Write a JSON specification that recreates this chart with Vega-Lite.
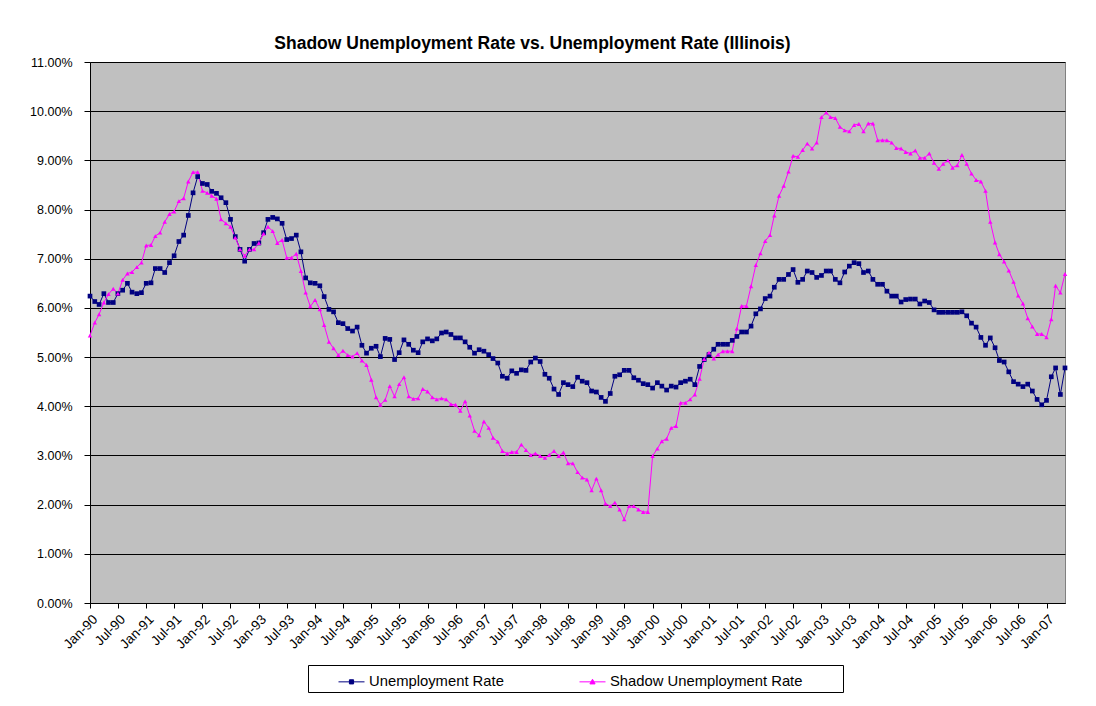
{
  "$schema": "https://vega.github.io/schema/vega-lite/v6.json",
  "width": 975,
  "height": 541,
  "autosize": {"type": "none"},
  "padding": {"left": 90, "top": 62, "right": 31, "bottom": 103},
  "background": "white",
  "title": {"text": "Shadow Unemployment Rate vs. Unemployment Rate (Illinois)", "font": "Liberation Sans", "fontSize": 17.5, "fontWeight": "bold", "color": "black", "anchor": "middle", "dx": -45, "offset": 4},
  "data": {"values": [
    {"d":"1990-01-01","u":6.24,"s":5.44},{"d":"1990-02-01","u":6.13,"s":5.70},{"d":"1990-03-01","u":6.07,"s":5.87},{"d":"1990-04-01","u":6.29,"s":6.11},{"d":"1990-05-01","u":6.11,"s":6.28},{"d":"1990-06-01","u":6.11,"s":6.39},{"d":"1990-07-01","u":6.29,"s":6.29},{"d":"1990-08-01","u":6.36,"s":6.57},{"d":"1990-09-01","u":6.50,"s":6.70},{"d":"1990-10-01","u":6.32,"s":6.73},{"d":"1990-11-01","u":6.29,"s":6.83},{"d":"1990-12-01","u":6.31,"s":6.92},
    {"d":"1991-01-01","u":6.50,"s":7.27},{"d":"1991-02-01","u":6.51,"s":7.28},{"d":"1991-03-01","u":6.80,"s":7.46},{"d":"1991-04-01","u":6.80,"s":7.53},{"d":"1991-05-01","u":6.72,"s":7.75},{"d":"1991-06-01","u":6.92,"s":7.91},{"d":"1991-07-01","u":7.06,"s":7.96},{"d":"1991-08-01","u":7.35,"s":8.17},{"d":"1991-09-01","u":7.48,"s":8.23},{"d":"1991-10-01","u":7.88,"s":8.57},{"d":"1991-11-01","u":8.34,"s":8.76},{"d":"1991-12-01","u":8.67,"s":8.76},
    {"d":"1992-01-01","u":8.53,"s":8.38},{"d":"1992-02-01","u":8.51,"s":8.34},{"d":"1992-03-01","u":8.37,"s":8.28},{"d":"1992-04-01","u":8.33,"s":8.22},{"d":"1992-05-01","u":8.24,"s":7.80},{"d":"1992-06-01","u":8.14,"s":7.72},{"d":"1992-07-01","u":7.80,"s":7.65},{"d":"1992-08-01","u":7.45,"s":7.43},{"d":"1992-09-01","u":7.19,"s":7.19},{"d":"1992-10-01","u":6.95,"s":7.06},{"d":"1992-11-01","u":7.19,"s":7.19},{"d":"1992-12-01","u":7.31,"s":7.19},
    {"d":"1993-01-01","u":7.32,"s":7.32},{"d":"1993-02-01","u":7.53,"s":7.51},{"d":"1993-03-01","u":7.80,"s":7.65},{"d":"1993-04-01","u":7.84,"s":7.56},{"d":"1993-05-01","u":7.81,"s":7.32},{"d":"1993-06-01","u":7.72,"s":7.38},{"d":"1993-07-01","u":7.39,"s":7.02},{"d":"1993-08-01","u":7.41,"s":7.02},{"d":"1993-09-01","u":7.48,"s":7.10},{"d":"1993-10-01","u":7.14,"s":6.75},{"d":"1993-11-01","u":6.61,"s":6.31},{"d":"1993-12-01","u":6.51,"s":6.03},
    {"d":"1994-01-01","u":6.50,"s":6.16},{"d":"1994-02-01","u":6.45,"s":5.97},{"d":"1994-03-01","u":6.23,"s":5.65},{"d":"1994-04-01","u":5.97,"s":5.31},{"d":"1994-05-01","u":5.92,"s":5.18},{"d":"1994-06-01","u":5.70,"s":5.04},{"d":"1994-07-01","u":5.68,"s":5.13},{"d":"1994-08-01","u":5.58,"s":5.04},{"d":"1994-09-01","u":5.53,"s":5.01},{"d":"1994-10-01","u":5.61,"s":5.08},{"d":"1994-11-01","u":5.24,"s":4.93},{"d":"1994-12-01","u":5.08,"s":4.84},
    {"d":"1995-01-01","u":5.18,"s":4.54},{"d":"1995-02-01","u":5.22,"s":4.18},{"d":"1995-03-01","u":5.01,"s":4.03},{"d":"1995-04-01","u":5.38,"s":4.13},{"d":"1995-05-01","u":5.36,"s":4.41},{"d":"1995-06-01","u":4.95,"s":4.20},{"d":"1995-07-01","u":5.09,"s":4.45},{"d":"1995-08-01","u":5.35,"s":4.59},{"d":"1995-09-01","u":5.26,"s":4.20},{"d":"1995-10-01","u":5.14,"s":4.15},{"d":"1995-11-01","u":5.09,"s":4.16},{"d":"1995-12-01","u":5.31,"s":4.35},
    {"d":"1996-01-01","u":5.37,"s":4.30},{"d":"1996-02-01","u":5.33,"s":4.18},{"d":"1996-03-01","u":5.37,"s":4.14},{"d":"1996-04-01","u":5.49,"s":4.16},{"d":"1996-05-01","u":5.51,"s":4.14},{"d":"1996-06-01","u":5.46,"s":4.04},{"d":"1996-07-01","u":5.39,"s":4.03},{"d":"1996-08-01","u":5.39,"s":3.91},{"d":"1996-09-01","u":5.31,"s":4.10},{"d":"1996-10-01","u":5.20,"s":3.81},{"d":"1996-11-01","u":5.08,"s":3.50},{"d":"1996-12-01","u":5.15,"s":3.41},
    {"d":"1997-01-01","u":5.12,"s":3.69},{"d":"1997-02-01","u":5.05,"s":3.56},{"d":"1997-03-01","u":4.97,"s":3.36},{"d":"1997-04-01","u":4.88,"s":3.28},{"d":"1997-05-01","u":4.61,"s":3.09},{"d":"1997-06-01","u":4.57,"s":3.04},{"d":"1997-07-01","u":4.72,"s":3.07},{"d":"1997-08-01","u":4.67,"s":3.07},{"d":"1997-09-01","u":4.74,"s":3.22},{"d":"1997-10-01","u":4.73,"s":3.11},{"d":"1997-11-01","u":4.90,"s":3.01},{"d":"1997-12-01","u":4.98,"s":3.04},
    {"d":"1998-01-01","u":4.91,"s":2.99},{"d":"1998-02-01","u":4.65,"s":2.95},{"d":"1998-03-01","u":4.57,"s":3.01},{"d":"1998-04-01","u":4.35,"s":3.09},{"d":"1998-05-01","u":4.24,"s":2.99},{"d":"1998-06-01","u":4.48,"s":3.06},{"d":"1998-07-01","u":4.44,"s":2.84},{"d":"1998-08-01","u":4.40,"s":2.84},{"d":"1998-09-01","u":4.59,"s":2.66},{"d":"1998-10-01","u":4.51,"s":2.55},{"d":"1998-11-01","u":4.48,"s":2.51},{"d":"1998-12-01","u":4.31,"s":2.29},
    {"d":"1999-01-01","u":4.29,"s":2.53},{"d":"1999-02-01","u":4.18,"s":2.29},{"d":"1999-03-01","u":4.10,"s":2.02},{"d":"1999-04-01","u":4.26,"s":1.97},{"d":"1999-05-01","u":4.61,"s":2.04},{"d":"1999-06-01","u":4.64,"s":1.90},{"d":"1999-07-01","u":4.73,"s":1.70},{"d":"1999-08-01","u":4.73,"s":1.97},{"d":"1999-09-01","u":4.58,"s":1.97},{"d":"1999-10-01","u":4.53,"s":1.90},{"d":"1999-11-01","u":4.46,"s":1.85},{"d":"1999-12-01","u":4.44,"s":1.85},
    {"d":"2000-01-01","u":4.37,"s":2.99},{"d":"2000-02-01","u":4.48,"s":3.14},{"d":"2000-03-01","u":4.41,"s":3.29},{"d":"2000-04-01","u":4.33,"s":3.34},{"d":"2000-05-01","u":4.41,"s":3.56},{"d":"2000-06-01","u":4.39,"s":3.60},{"d":"2000-07-01","u":4.48,"s":4.07},{"d":"2000-08-01","u":4.51,"s":4.07},{"d":"2000-09-01","u":4.55,"s":4.14},{"d":"2000-10-01","u":4.44,"s":4.24},{"d":"2000-11-01","u":4.81,"s":4.56},{"d":"2000-12-01","u":4.95,"s":4.96},
    {"d":"2001-01-01","u":5.05,"s":5.09},{"d":"2001-02-01","u":5.16,"s":4.97},{"d":"2001-03-01","u":5.26,"s":5.05},{"d":"2001-04-01","u":5.26,"s":5.12},{"d":"2001-05-01","u":5.26,"s":5.12},{"d":"2001-06-01","u":5.34,"s":5.12},{"d":"2001-07-01","u":5.42,"s":5.58},{"d":"2001-08-01","u":5.51,"s":6.04},{"d":"2001-09-01","u":5.51,"s":6.04},{"d":"2001-10-01","u":5.63,"s":6.44},{"d":"2001-11-01","u":5.88,"s":6.87},{"d":"2001-12-01","u":5.98,"s":7.11},
    {"d":"2002-01-01","u":6.19,"s":7.36},{"d":"2002-02-01","u":6.24,"s":7.48},{"d":"2002-03-01","u":6.42,"s":7.88},{"d":"2002-04-01","u":6.58,"s":8.28},{"d":"2002-05-01","u":6.58,"s":8.48},{"d":"2002-06-01","u":6.68,"s":8.77},{"d":"2002-07-01","u":6.78,"s":9.09},{"d":"2002-08-01","u":6.52,"s":9.07},{"d":"2002-09-01","u":6.58,"s":9.21},{"d":"2002-10-01","u":6.75,"s":9.34},{"d":"2002-11-01","u":6.72,"s":9.24},{"d":"2002-12-01","u":6.62,"s":9.36},
    {"d":"2003-01-01","u":6.66,"s":9.88},{"d":"2003-02-01","u":6.75,"s":9.97},{"d":"2003-03-01","u":6.75,"s":9.88},{"d":"2003-04-01","u":6.58,"s":9.86},{"d":"2003-05-01","u":6.51,"s":9.68},{"d":"2003-06-01","u":6.73,"s":9.61},{"d":"2003-07-01","u":6.85,"s":9.59},{"d":"2003-08-01","u":6.92,"s":9.72},{"d":"2003-09-01","u":6.90,"s":9.74},{"d":"2003-10-01","u":6.72,"s":9.59},{"d":"2003-11-01","u":6.75,"s":9.75},{"d":"2003-12-01","u":6.58,"s":9.75},
    {"d":"2004-01-01","u":6.48,"s":9.41},{"d":"2004-02-01","u":6.48,"s":9.41},{"d":"2004-03-01","u":6.34,"s":9.41},{"d":"2004-04-01","u":6.24,"s":9.36},{"d":"2004-05-01","u":6.24,"s":9.25},{"d":"2004-06-01","u":6.12,"s":9.24},{"d":"2004-07-01","u":6.17,"s":9.17},{"d":"2004-08-01","u":6.18,"s":9.14},{"d":"2004-09-01","u":6.18,"s":9.20},{"d":"2004-10-01","u":6.08,"s":9.05},{"d":"2004-11-01","u":6.14,"s":9.05},{"d":"2004-12-01","u":6.11,"s":9.14},
    {"d":"2005-01-01","u":5.96,"s":8.95},{"d":"2005-02-01","u":5.91,"s":8.83},{"d":"2005-03-01","u":5.91,"s":8.93},{"d":"2005-04-01","u":5.91,"s":9.00},{"d":"2005-05-01","u":5.91,"s":8.85},{"d":"2005-06-01","u":5.91,"s":8.90},{"d":"2005-07-01","u":5.92,"s":9.11},{"d":"2005-08-01","u":5.84,"s":8.93},{"d":"2005-09-01","u":5.69,"s":8.73},{"d":"2005-10-01","u":5.61,"s":8.60},{"d":"2005-11-01","u":5.40,"s":8.57},{"d":"2005-12-01","u":5.24,"s":8.38},
    {"d":"2006-01-01","u":5.39,"s":7.75},{"d":"2006-02-01","u":5.19,"s":7.33},{"d":"2006-03-01","u":4.93,"s":7.09},{"d":"2006-04-01","u":4.90,"s":6.94},{"d":"2006-05-01","u":4.70,"s":6.76},{"d":"2006-06-01","u":4.50,"s":6.53},{"d":"2006-07-01","u":4.45,"s":6.25},{"d":"2006-08-01","u":4.40,"s":6.09},{"d":"2006-09-01","u":4.45,"s":5.79},{"d":"2006-10-01","u":4.31,"s":5.62},{"d":"2006-11-01","u":4.14,"s":5.47},{"d":"2006-12-01","u":4.03,"s":5.47},
    {"d":"2007-01-01","u":4.12,"s":5.40},{"d":"2007-02-01","u":4.60,"s":5.77},{"d":"2007-03-01","u":4.78,"s":6.45},{"d":"2007-04-01","u":4.24,"s":6.31},{"d":"2007-05-01","u":4.78,"s":6.69}
  ]},
  "transform": [{"fold": ["u", "s"], "as": ["series", "value"]}],
  "encoding": {
    "x": {
      "field": "d", "type": "temporal",
      "scale": {"type": "utc", "domain": [{"year": 1990, "month": 1, "date": 1, "utc": true}, {"year": 2007, "month": 5, "date": 1, "utc": true}], "nice": false},
      "axis": {"format": "%b-%y", "tickCount": {"interval": "month", "step": 6}, "labelAngle": -45, "labelFont": "Liberation Sans", "labelFontSize": 13.5, "labelColor": "black", "tickColor": "black", "tickSize": 5, "domainColor": "black", "grid": false, "title": null, "labelPadding": 4, "labelOverlap": false, "labelFlush": false}
    },
    "y": {
      "field": "value", "type": "quantitative",
      "scale": {"domain": [0, 11], "nice": false, "zero": true},
      "axis": {"values": [0,1,2,3,4,5,6,7,8,9,10,11], "labelExpr": "format(datum.value, '.2f') + '%'", "grid": true, "gridColor": "black", "gridOpacity": 1, "gridWidth": 1, "tickColor": "black", "tickSize": 6, "domainColor": "black", "labelFont": "Liberation Sans", "labelFontSize": 12.5, "labelColor": "black", "title": null, "labelPadding": 12}
    }
  },
  "layer": [
    {
      "transform": [{"filter": "datum.series === 'u'"}],
      "mark": {"type": "line", "strokeWidth": 1, "color": "#000080"}
    },
    {
      "transform": [{"filter": "datum.series === 's'"}],
      "mark": {"type": "line", "strokeWidth": 1, "color": "#FF00FF"}
    },
    {
      "transform": [{"filter": "datum.series === 'u'"}],
      "mark": {"type": "point", "shape": "square", "filled": true, "size": 22, "opacity": 1, "color": "#000080"}
    },
    {
      "transform": [{"filter": "datum.series === 's'"}],
      "mark": {"type": "point", "shape": "triangle-up", "filled": true, "size": 20, "opacity": 1, "color": "#FF00FF"}
    },
    {
      "data": {"values": [{"series": "u"}, {"series": "s"}]},
      "mark": {"type": "point", "strokeWidth": 1, "filled": true, "opacity": 1},
      "encoding": {
        "x": {"field": "d", "type": "temporal"},
        "y": {"field": "value", "type": "quantitative"},
        "shape": {"field": "series", "type": "nominal", "scale": {"domain": ["u", "s"], "range": ["M-1,0H1M-0.16,-0.16H0.16V0.16H-0.16Z", "M-1,0H1M0,-0.2L0.2,0.16H-0.2Z"]},
          "legend": {"title": "\u00a0", "titleOrient": "right", "titlePadding": 38, "orient": "none", "legendX": 218, "legendY": 603, "direction": "horizontal", "labelExpr": "datum.value === 'u' ? 'Unemployment Rate' : 'Shadow Unemployment Rate'"}},
        "fill": {"field": "series", "type": "nominal", "scale": {"domain": ["u", "s"], "range": ["#000080", "#FF00FF"]},
          "legend": {"title": "\u00a0", "titleOrient": "right", "titlePadding": 38, "orient": "none", "legendX": 218, "legendY": 603, "direction": "horizontal", "labelExpr": "datum.value === 'u' ? 'Unemployment Rate' : 'Shadow Unemployment Rate'"}},
        "stroke": {"field": "series", "type": "nominal", "scale": {"domain": ["u", "s"], "range": ["#000080", "#FF00FF"]},
          "legend": {"title": "\u00a0", "titleOrient": "right", "titlePadding": 38, "orient": "none", "legendX": 218, "legendY": 603, "direction": "horizontal", "labelExpr": "datum.value === 'u' ? 'Unemployment Rate' : 'Shadow Unemployment Rate'"}}
      }
    }
  ],
  "config": {
    "font": "Liberation Sans",
    "view": {"fill": "#C0C0C0", "stroke": "#808080", "strokeWidth": 1},
    "legend": {"symbolSize": 676, "symbolStrokeWidth": 1, "labelFont": "Liberation Sans", "labelFontSize": 14.8, "labelColor": "black", "labelLimit": 0, "titleFontSize": 14.8, "titleFont": "Liberation Sans", "strokeColor": "black", "fillColor": "white", "padding": 3, "columnPadding": 48, "symbolOffset": 27, "labelOffset": 4}
  }
}
